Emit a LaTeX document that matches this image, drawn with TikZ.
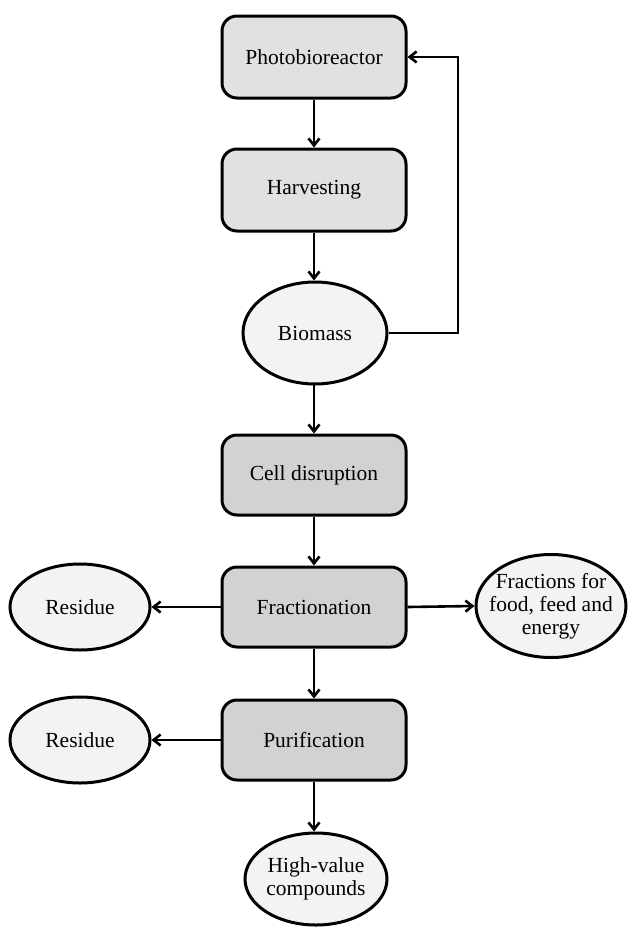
\documentclass[tikz,border=0pt]{standalone}
\usepackage{fontspec}
\setmainfont{Liberation Serif}
\usetikzlibrary{shapes.geometric,arrows.meta}
\definecolor{boxA}{HTML}{E1E1E1}
\definecolor{boxB}{HTML}{D1D2D1}
\definecolor{ellF}{HTML}{F3F3F3}
\begin{document}
\begin{tikzpicture}[x=1pt,y=-1pt,
  every node/.style={font=\fontsize{21.5}{24}\selectfont},
  procA/.style={draw, line width=3pt, rounded corners=15pt, fill=boxA, minimum width=184pt, minimum height=82pt, inner sep=0pt},
  procB/.style={draw, line width=3pt, rounded corners=15pt, fill=boxB, minimum width=184pt, minimum height=80pt, inner sep=0pt},
  oval/.style={draw, ellipse, line width=3pt, fill=ellF, inner sep=0pt, align=center},
  conn/.style={line width=2.6pt, -{Straight Barb[length=7pt,width=11pt,line width=2.6pt]}}
]
\useasboundingbox (0,0) rectangle (628,929);
\node[procA] (pbr) at (314,57) {Photobioreactor};
\node[procA] (harv) at (314,190) {Harvesting};
\node[oval, minimum width=144pt, minimum height=102pt] (bio) at (315,333) {Biomass};
\node[procB] (cell) at (314,475) {Cell disruption};
\node[procB] (frac) at (314,607) {Fractionation};
\node[oval, minimum width=140pt, minimum height=86pt] (res1) at (80,607) {Residue};
\node[oval, inner xsep=-20pt, inner ysep=-20pt, minimum width=150pt, minimum height=103pt] (fra) at (551,606) {Fractions for\\[-1pt]food, feed and\\[-1pt]energy};
\node[procB] (pur) at (314,740) {Purification};
\node[oval, minimum width=140pt, minimum height=86pt] (res2) at (80,740) {Residue};
\node[oval, inner xsep=-10pt, inner ysep=-10pt, minimum width=142pt, minimum height=92pt] (hv) at (316,879) {High-value\\[-1pt]compounds};
\coordinate (c1) at (458,333);
\coordinate (c2) at (458,57);
\draw[conn] (pbr.south) -- (harv.north);
\draw[conn] (harv.south) -- (harv.south |- bio.north);
\draw[conn] (bio.east) -- (c1) -- (c2) -- (pbr.east);
\draw[conn] (bio.south) -- (bio.south -| cell.north) -- (cell.north);
\draw[conn] (cell.south) -- (frac.north);
\draw[conn] (frac.west) -- (res1.east);
\draw[conn] (frac.east) -- (fra.west);
\draw[conn] (frac.south) -- (pur.north);
\draw[conn] (pur.west) -- (res2.east);
\draw[conn] (pur.south) -- (pur.south |- hv.north);
\end{tikzpicture}
\end{document}
